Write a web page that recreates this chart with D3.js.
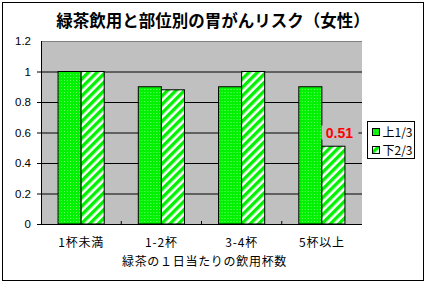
<!DOCTYPE html>
<html><head><meta charset="utf-8">
<script src="https://cdn.jsdelivr.net/npm/d3@7"></script>
<style>
body{margin:0;background:#fff;}
svg{display:block;font-family:"Noto Sans CJK JP","Noto Sans",sans-serif;}
</style></head><body>
<svg id="c" width="427" height="285"></svg>
<script>
const categories = ["1杯未満","1-2杯","3-4杯","5杯以上"];
const seriesNames = ["上1/3","下2/3"];
const upper = [1.0, 0.9, 0.9, 0.9];
const lower = [1.0, 0.88, 1.0, 0.51];
const yTicks = [0, 0.2, 0.4, 0.6, 0.8, 1, 1.2];
const yTickLabels = ["0","0.2","0.4","0.6","0.8","1","1.2"];
const titleText = "緑茶飲用と部位別の胃がんリスク（女性）";
const xTitle = "緑茶の１日当たりの飲用杯数";

const svg = d3.select("#c");
const W=427,H=285;
const m={l:41,r:65,t:41,b:61};
const pw=W-m.l-m.r, ph=H-m.t-m.b;

const defs=svg.append("defs");
const dots=defs.append("pattern").attr("id","dots").attr("patternUnits","userSpaceOnUse").attr("width",3).attr("height",3);
dots.append("rect").attr("width",3).attr("height",3).attr("fill","#00f200");
dots.append("rect").attr("x",0).attr("y",0).attr("width",1).attr("height",1).attr("fill","#70ff70");
const hatch=defs.append("pattern").attr("id","hatch").attr("patternUnits","userSpaceOnUse").attr("width",6).attr("height",6).attr("patternTransform","rotate(45)");
hatch.append("rect").attr("width",6).attr("height",6).attr("fill","#ffffff");
hatch.append("rect").attr("width",3.4).attr("height",6).attr("fill","#00f200");

svg.append("rect").attr("x",2.5).attr("y",2.5).attr("width",421).attr("height",278).attr("fill","#fff").attr("stroke","#000");

svg.append("text").attr("x",213).attr("y",27).attr("text-anchor","middle")
  .attr("font-size",16.5).attr("font-weight","bold").text(titleText);

const g=svg.append("g").attr("transform",`translate(${m.l},${m.t})`);
const x=d3.scaleBand().domain(categories).range([0,pw]).paddingInner(0.425).paddingOuter(0.2125);
const xs=d3.scaleBand().domain(seriesNames).range([0,x.bandwidth()]);
const y=d3.scaleLinear().domain([0,1.2]).range([ph,0]);

g.append("rect").attr("width",pw).attr("height",ph).attr("fill","#c0c0c0");
g.append("line").attr("x1",0).attr("x2",pw).attr("y1",0.5).attr("y2",0.5).attr("stroke","#808080");

const yAxis=d3.axisLeft(y).tickValues(yTicks).tickFormat((d,i)=>yTickLabels[i]).tickSize(-pw).tickSizeOuter(0).tickPadding(10);
const ya=g.append("g").call(yAxis);
ya.select(".domain").remove();
ya.selectAll(".tick line").attr("stroke","#000").attr("x1",-4).filter(d=>d===1.2).remove();
ya.selectAll(".tick text").attr("font-size",11.5).attr("font-family","Arial,'Liberation Sans',sans-serif").attr("fill","#000");

const data=categories.map((c,i)=>({c,vals:[upper[i],lower[i]]}));
const grp=g.selectAll(".grp").data(data).enter().append("g").attr("transform",d=>`translate(${x(d.c)},0)`);
grp.selectAll("rect").data(d=>d.vals.map((v,j)=>({v,s:seriesNames[j]}))).enter().append("rect")
  .attr("x",d=>xs(d.s)).attr("width",xs.bandwidth())
  .attr("y",d=>y(d.v)).attr("height",d=>ph-y(d.v))
  .attr("fill",d=>d.s===seriesNames[0]?"url(#dots)":"url(#hatch)")
  .attr("stroke","#000").attr("stroke-width",1);

categories.slice(0,-1).forEach((c,i)=>{
  const bx=x(c)+x.bandwidth()+x.step()*x.paddingInner()/2;
  g.append("line").attr("x1",bx).attr("x2",bx).attr("y1",ph).attr("y2",ph-3).attr("stroke","#000");
});

g.append("line").attr("x1",0.5).attr("x2",0.5).attr("y1",0).attr("y2",ph).attr("stroke","#000");
g.append("line").attr("x1",0).attr("x2",pw).attr("y1",ph+0.5).attr("y2",ph+0.5).attr("stroke","#000");

const li=3;
const lx=x(categories[li])+xs(seriesNames[1])+xs.bandwidth()/2+6;
const ly=y(0.6);
g.append("rect").attr("x",lx-18).attr("y",ly-7).attr("width",37).attr("height",14).attr("fill","#c0c0c0");
g.append("text").attr("x",lx).attr("y",ly+5).attr("text-anchor","middle").attr("font-size",14).attr("font-weight","bold")
  .attr("font-family","Arial,'Liberation Sans',sans-serif").attr("fill","#ff0000").text(lower[li].toFixed(2));

categories.forEach(c=>{
  g.append("text").attr("x",x(c)+x.bandwidth()/2).attr("y",ph+23).attr("text-anchor","middle").attr("font-size",12).attr("letter-spacing",0.8).text(c);
});
g.append("text").attr("x",pw/2+3).attr("y",ph+42).attr("text-anchor","middle").attr("font-size",12).attr("letter-spacing",0.7).text(xTitle);

const lg=svg.append("g").attr("transform","translate(367.5,121.5)");
lg.append("rect").attr("width",47).attr("height",37).attr("fill","#fff").attr("stroke","#000");
seriesNames.forEach((s,i)=>{
  lg.append("rect").attr("x",5).attr("y",7+i*18).attr("width",7).attr("height",7)
    .attr("fill",i===0?"url(#dots)":"url(#hatch)").attr("stroke","#000");
  lg.append("text").attr("x",15).attr("y",15+i*18).attr("font-size",12).text(s);
});
</script>
</body></html>
